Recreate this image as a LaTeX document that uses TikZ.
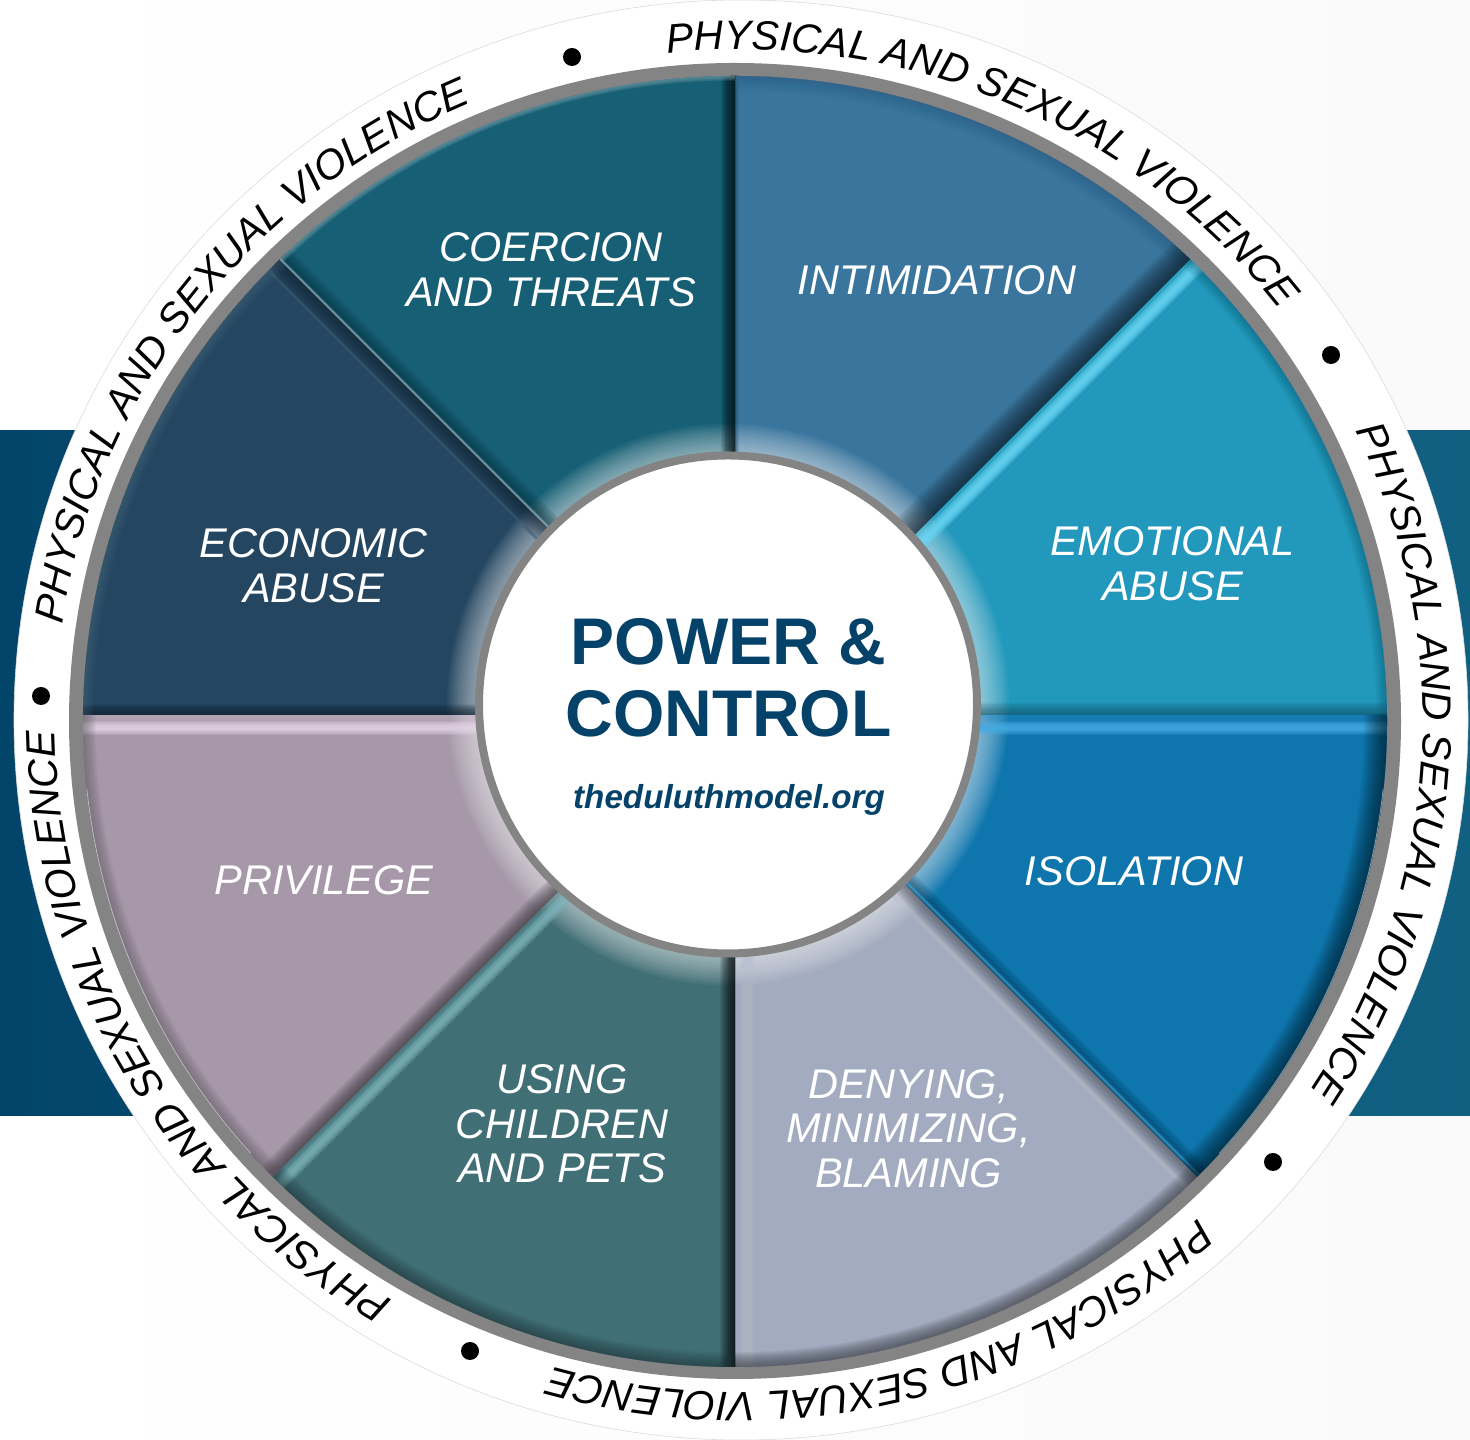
\documentclass[tikz,border=0pt]{standalone}
\usepackage{fontspec}
\setmainfont{Liberation Sans}
\usetikzlibrary{decorations.text}
\definecolor{pagegray}{HTML}{FAFAFB}
\definecolor{bandA}{HTML}{03456A}
\definecolor{bandB}{HTML}{116082}
\definecolor{rimgray}{HTML}{848484}
\definecolor{navy}{HTML}{04426A}
\definecolor{cInt}{HTML}{39759C}
\definecolor{cEmo}{HTML}{2298BC}
\definecolor{cIso}{HTML}{0E76AD}
\definecolor{cDen}{HTML}{A2ABBF}
\definecolor{cUse}{HTML}{416F76}
\definecolor{cPri}{HTML}{A698A9}
\definecolor{cEco}{HTML}{244660}
\definecolor{cCoe}{HTML}{165F74}
\definecolor{hEmo}{HTML}{6FDCFA}
\definecolor{hIso}{HTML}{48B0E6}
\definecolor{hUse}{HTML}{82BAC0}
\definecolor{hPri}{HTML}{E8D8EA}
\newcommand{\rimpath}{(735,718.5) ellipse [x radius=652,y radius=645.5]}
\newcommand{\hubpath}{(728,735.5) circle [radius=250]}
\newcommand{\pN}{(735,725)--(735,1440)}
\newcommand{\pNE}{(735,725)--(1335,1325)}
\newcommand{\pE}{(735,725)--(1470,725)}
\newcommand{\pSE}{(735,725)--(1335,125)}
\newcommand{\pS}{(735,725)--(735,0)}
\newcommand{\pSW}{(735,725)--(135,125)}
\newcommand{\pW}{(735,725)--(0,725)}
\newcommand{\pNW}{(735,725)--(135,1325)}
\newcommand{\softedge}[4]{\foreach \k in {1,...,16}{\draw[#1,line width=#2pt*\k/16,opacity=#3*0.64] #4;}}
\newcommand{\sectorfill}[2]{\clip #1; \clip \rimpath; \fill[#2] (0,0) rectangle (1470,1440); \softedge{white}{62}{0.065}{\hubpath}}
\newcommand{\ringfont}{\fontsize{41}{41}\selectfont\itshape}
\newcommand{\ringtext}[1]{\path[decorate,decoration={text along path,text align=left,text={|\ringfont|PHYSICAL AND SEXUAL VIOLENCE}}] (739,719) ++(#1:684 and 671.5) arc[start angle=#1,delta angle=-68,x radius=684,y radius=671.5];}
\tikzset{
 wedgelabel/.style={font=\fontsize{41.5}{44.7}\selectfont\itshape,text=white,align=center,inner sep=0pt},
 ringdot/.style={circle,fill=black,inner sep=0pt,minimum size=18pt}
}
\begin{document}
\begin{tikzpicture}[x=1pt,y=1pt]
\useasboundingbox (0,0) rectangle (1470,1440);
\fill[left color=white,right color=pagegray] (0,0) rectangle (1470,1440);
\fill[left color=bandA,right color=bandB] (0,324) rectangle (1470,1009);
\filldraw[fill=white,draw=black!14,line width=.6pt] (741,720) ellipse [x radius=727,y radius=720];
\fill[rimgray] (735,719) ellipse [x radius=666,y radius=658];
% Intimidation
\begin{scope}
\sectorfill{(735,725)--(735,1440)--(1335,1325)--cycle}{cInt}
\softedge{cInt!70!black}{8}{0.08}{\pN}
\softedge{cInt!85!black}{30}{0.03}{\rimpath}
\softedge{black!80!cInt}{50}{0.09}{\pNE}
\end{scope}
% Emotional abuse
\begin{scope}
\sectorfill{(735,725)--(1335,1325)--(1470,1325)--(1470,725)--cycle}{cEmo}
\softedge{hEmo!50!cEmo}{36}{0.06}{\pNE}
\softedge{hEmo,shift={(7,-7)}}{15}{0.17}{\pNE}
\softedge{cEmo!45!black}{26}{0.07}{\pE}
\softedge{cEmo!60!black}{22}{0.05}{\rimpath}
\end{scope}
% Isolation
\begin{scope}
\sectorfill{(735,725)--(1470,725)--(1470,125)--(1335,125)--cycle}{cIso}
\softedge{hIso!55!cIso}{34}{0.06}{\pE}
\softedge{hIso,shift={(0,-13)}}{14}{0.18}{\pE}
\softedge{cIso!45!black}{30}{0.08}{\pSE}
\softedge{hIso,shift={(2,2)}}{4}{0.1}{\pSE}
\softedge{cIso!15!black}{46}{0.08}{\rimpath}
\draw[white,line width=1.4pt,opacity=.5] (735,718.5) ++(-6:652 and 645.5) arc[start angle=-6,end angle=-42,x radius=652,y radius=645.5];
\end{scope}
% Denying
\begin{scope}
\sectorfill{(735,725)--(1335,125)--(735,0)--cycle}{cDen}
\softedge{cDen!75!white,shift={(12,0)}}{16}{0.1}{\pS}
\softedge{cDen!45!black}{26}{0.08}{\pSE}
\softedge{cDen!70!white,shift={(-11,-11)}}{6}{0.08}{\pSE}
\softedge{cDen!35!black}{30}{0.09}{\rimpath}
\end{scope}
% Using children
\begin{scope}
\sectorfill{(735,725)--(735,0)--(135,125)--cycle}{cUse}
\softedge{hUse!50!cUse}{30}{0.07}{\pSW}
\softedge{hUse,shift={(7,-7)}}{14}{0.16}{\pSW}
\softedge{cUse!15!black}{30}{0.14}{\pS}
\softedge{cUse!45!black}{30}{0.07}{\rimpath}
\end{scope}
% Privilege
\begin{scope}
\sectorfill{(735,725)--(135,125)--(0,125)--(0,725)--cycle}{cPri}
\softedge{hPri!50!cPri}{32}{0.07}{\pW}
\softedge{hPri,shift={(0,-13)}}{14}{0.18}{\pW}
\softedge{cPri!30!black}{32}{0.09}{\pSW}
\softedge{cPri!55!black}{26}{0.06}{\rimpath}
\draw[white,line width=1.4pt,opacity=.5] (735,718.5) ++(186:652 and 645.5) arc[start angle=186,end angle=222,x radius=652,y radius=645.5];
\end{scope}
% Economic abuse
\begin{scope}
\sectorfill{(735,725)--(0,725)--(0,1325)--(135,1325)--cycle}{cEco}
\softedge{cEco!45!black}{22}{0.1}{\pW}
\softedge{cEco!50!black}{32}{0.08}{\pNW}
\softedge{cEco!85!white,shift={(-11,-11)}}{4}{0.1}{\pNW}
\softedge{cEco!75!white}{22}{0.05}{\rimpath}
\end{scope}
% Coercion
\begin{scope}
\sectorfill{(735,725)--(135,1325)--(735,1440)--cycle}{cCoe}
\softedge{cCoe!20!black}{28}{0.14}{\pN}
\softedge{cCoe!50!black}{30}{0.08}{\pNW}
\softedge{cCoe!50!white}{5}{0.2}{\pNW}
\softedge{cCoe!55!white}{10}{0.1}{\rimpath}
\end{scope}
% Hub
\filldraw[fill=white,draw=rimgray,line width=8pt] (728,735.5) circle [radius=249];
% Labels
\node[wedgelabel] (coercion) at (551,1170.5) {COERCION\\AND THREATS};
\node[wedgelabel] (intim) at (937,1160) {INTIMIDATION};
\node[wedgelabel] (emotional) at (1172.5,876) {EMOTIONAL\\ABUSE};
\node[wedgelabel] (isolation) at (1134,569) {ISOLATION};
\node[wedgelabel] (denying) at (908.5,311.5) {DENYING,\\MINIMIZING,\\BLAMING};
\node[wedgelabel] (children) at (562,316) {USING\\CHILDREN\\AND PETS};
\node[wedgelabel] (privilege) at (324,560) {PRIVILEGE};
\node[wedgelabel] (economic) at (313.5,874) {ECONOMIC\\ABUSE};
\node[font=\fontsize{66}{71.5}\selectfont\bfseries,text=navy,align=center,inner sep=0pt] (power) at (728.5,762) {POWER \&\\CONTROL};
\node[font=\fontsize{33.2}{33}\selectfont\bfseries\itshape,text=navy,anchor=base,inner sep=0pt] (site) at (729,631.5) {theduluthmodel.org};
% Ring text
\ringtext{96}
\ringtext{25.6}
\ringtext{-47.8}
\ringtext{-120.4}
\ringtext{171.7}
% Dots
\node[ringdot] (dotA) at (572,1383) {};
\node[ringdot] (dotB) at (1331,1085) {};
\node[ringdot] (dotC) at (1273,278) {};
\node[ringdot] (dotD) at (470,89) {};
\node[ringdot] (dotE) at (41,744) {};
\end{tikzpicture}
\end{document}
